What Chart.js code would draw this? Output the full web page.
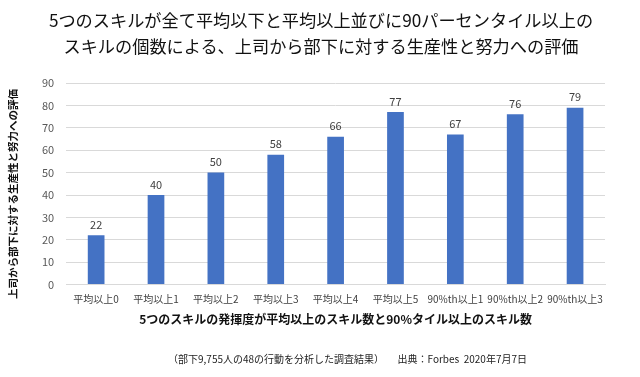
<!DOCTYPE html>
<html>
<head>
<meta charset="utf-8">
<script src="https://cdn.jsdelivr.net/npm/chart.js@4"></script>
<style>
  body { margin: 0; background: #fff; }
  #wrap { position: relative; width: 640px; height: 377px; }
  #title { position: absolute; left: 0; top: 7px; width: 642px; text-align: center; font: 17.2px/26px "Noto Sans CJK JP", sans-serif; color: #111; }
  #note { position: absolute; left: 168px; top: 351px; font: 10px "Noto Sans CJK JP", sans-serif; color: #222; white-space: pre; }
</style>
</head>
<body>
<div id="wrap">
  <canvas id="skillChart" width="640" height="377"></canvas>
  <div id="title">5つのスキルが全て平均以下と平均以上並びに90パーセンタイル以上の<br>スキルの個数による、上司から部下に対する生産性と努力への評価</div>
  <div id="note">（部下9,755人の48の行動を分析した調査結果）      出典：Forbes  2020年7月7日</div>
</div>
<script>
const categories = ['平均以上0', '平均以上1', '平均以上2', '平均以上3', '平均以上4', '平均以上5', '90%th以上1', '90%th以上2', '90%th以上3'];
const scores = [22, 40, 50, 58, 66, 77, 67, 76, 79];
const yTicks = [0, 10, 20, 30, 40, 50, 60, 70, 80, 90];
const yTitle = '上司から部下に対する生産性と努力への評価';

const fontJP = '"Noto Sans CJK JP", sans-serif';

// value labels above each bar, plus the rotated y title (sits a bit low in the original)
const barLabels = {
  id: 'barLabels',
  afterDatasetsDraw(chart) {
    const ctx = chart.ctx;
    const meta = chart.getDatasetMeta(0);
    ctx.save();
    ctx.font = '11px ' + fontJP;
    ctx.fillStyle = '#404040';
    ctx.textAlign = 'center';
    ctx.textBaseline = 'bottom';
    meta.data.forEach(function(bar, i) {
      ctx.fillText(scores[i], bar.x, bar.y - 5);
    });
    ctx.translate(13, 194);
    ctx.rotate(-Math.PI / 2);
    ctx.font = 'bold 10.5px ' + fontJP;
    ctx.fillStyle = '#111';
    ctx.textBaseline = 'middle';
    ctx.fillText(yTitle, 0, 0);
    ctx.restore();
  }
};

const ctx = document.getElementById('skillChart').getContext('2d');
new Chart(ctx, {
  type: 'bar',
  data: {
    labels: categories,
    datasets: [{
      data: scores,
      backgroundColor: '#4472C4',
      barPercentage: 0.9,
      categoryPercentage: 0.31
    }]
  },
  options: {
    responsive: false,
    animation: false,
    layout: { padding: { left: 30, right: 35, top: 83, bottom: 46 } },
    plugins: {
      legend: { display: false },
      tooltip: { enabled: false }
    },
    scales: {
      x: {
        grid: { display: false },
        border: { color: '#d9d9d9' },
        ticks: { color: '#404040', font: { family: fontJP, size: 10 }, maxRotation: 0, autoSkip: false, padding: 1 },
        title: {
          display: true,
          text: '5つのスキルの発揮度が平均以上のスキル数と90%タイル以上のスキル数',
          color: '#111',
          font: { family: fontJP, size: 12, weight: 'bold' },
          padding: { top: 6 }
        }
      },
      y: {
        min: 0,
        max: 90,
        afterBuildTicks(axis) { axis.ticks = yTicks.map(v => ({ value: v })); },
        grid: { color: '#d9d9d9', drawTicks: false },
        border: { display: false },
        ticks: { color: '#595959', font: { family: fontJP, size: 11 }, padding: 12 }
      }
    }
  },
  plugins: [barLabels]
});
</script>
</body>
</html>
